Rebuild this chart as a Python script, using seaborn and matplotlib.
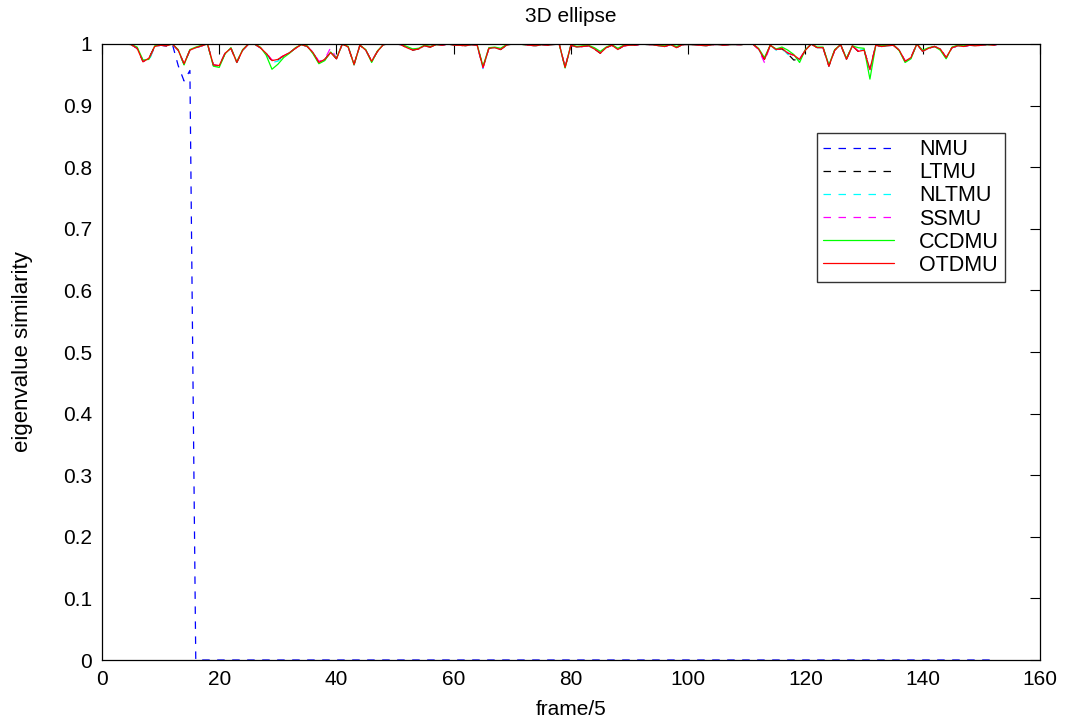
import numpy as np
import pandas as pd
import matplotlib
matplotlib.use("Agg")
import matplotlib.pyplot as plt
import seaborn as sns

# ---------------- data ----------------
frames = list(range(0, 154))

OTDMU = [1.0, 1.0, 1.0, 1.0, 1.0, 0.999, 0.993, 0.971, 0.977, 0.996,
         0.998, 0.997, 1.0, 0.990, 0.968, 0.990, 0.994, 0.997, 1.0, 0.966,
         0.965, 0.985, 0.993, 0.970, 0.990, 1.0, 1.0, 0.994, 0.985, 0.973,
         0.975, 0.981, 0.986, 0.993, 0.999, 0.996, 0.986, 0.970, 0.975, 0.986,
         0.976, 1.0, 0.995, 0.967, 0.998, 0.990, 0.972, 0.988, 0.999, 1.0,
         1.0, 0.999, 0.994, 0.990, 0.992, 0.997, 0.995, 0.999, 0.998, 1.0,
         0.998, 0.998, 0.997, 0.999, 0.998, 0.962, 0.993, 0.994, 0.991, 0.998,
         1.0, 1.0, 0.999, 0.998, 0.997, 0.999, 0.998, 0.999, 1.0, 0.962,
         0.998, 0.995, 0.996, 0.997, 0.992, 0.985, 0.994, 0.998, 0.991, 0.997,
         0.998, 0.998, 1.0, 0.999, 0.999, 0.997, 0.996, 0.999, 0.994, 0.999,
         0.999, 0.999, 0.998, 0.997, 0.999, 0.999, 0.998, 0.999, 0.999, 0.999,
         1.0, 1.0, 0.992, 0.975, 0.998, 0.991, 0.993, 0.985, 0.982, 0.975,
         0.990, 1.0, 0.994, 0.994, 0.964, 0.990, 0.999, 0.975, 0.997, 0.988,
         0.990, 0.959, 0.998, 0.996, 0.997, 0.998, 0.990, 0.972, 0.978, 1.0,
         0.988, 0.993, 0.996, 0.992, 0.978, 0.994, 0.997, 0.996, 0.998, 0.997,
         0.998, 0.999, 0.998, 1.0]

CCDMU = [1.0, 1.0, 1.0, 1.0, 1.0, 0.999, 0.995, 0.974, 0.975, 0.997,
         0.999, 0.998, 1.0, 0.991, 0.966, 0.991, 0.995, 0.998, 1.0, 0.964,
         0.962, 0.984, 0.994, 0.971, 0.991, 1.0, 1.0, 0.995, 0.982, 0.959,
         0.967, 0.978, 0.985, 0.994, 0.999, 0.997, 0.984, 0.968, 0.973, 0.987,
         0.977, 1.0, 0.996, 0.966, 0.998, 0.991, 0.970, 0.989, 0.999, 1.0,
         1.0, 1.0, 0.996, 0.992, 0.993, 0.998, 0.996, 0.999, 0.999, 1.0,
         0.999, 0.998, 0.998, 0.999, 0.999, 0.964, 0.994, 0.995, 0.993, 0.999,
         1.0, 1.0, 0.999, 0.999, 0.998, 0.999, 0.999, 1.0, 1.0, 0.961,
         0.999, 0.996, 0.997, 0.998, 0.994, 0.988, 0.995, 0.999, 0.993, 0.998,
         0.999, 0.999, 1.0, 1.0, 0.999, 0.998, 0.997, 0.999, 0.996, 0.999,
         1.0, 0.999, 0.999, 0.998, 0.999, 1.0, 0.999, 0.999, 1.0, 0.999,
         1.0, 1.0, 0.993, 0.978, 0.998, 0.992, 0.995, 0.990, 0.983, 0.970,
         0.991, 1.0, 0.995, 0.995, 0.966, 0.991, 0.999, 0.977, 0.997, 0.994,
         0.993, 0.943, 0.998, 0.997, 0.998, 0.999, 0.989, 0.970, 0.976, 1.0,
         0.990, 0.994, 0.996, 0.990, 0.976, 0.995, 0.998, 0.997, 0.999, 0.998,
         0.999, 0.999, 0.999, 1.0]

SSMU = [1.0, 1.0, 1.0, 1.0, 1.0, 0.999, 0.993, 0.972, 0.974, 0.996,
        0.998, 0.997, 1.0, 0.990, 0.968, 0.990, 0.994, 0.997, 1.0, 0.966,
        0.965, 0.985, 0.993, 0.971, 0.990, 1.0, 1.0, 0.994, 0.986, 0.974,
        0.976, 0.981, 0.986, 0.993, 0.999, 0.996, 0.987, 0.972, 0.975, 0.994,
        0.977, 1.0, 0.995, 0.966, 0.998, 0.990, 0.973, 0.988, 0.999, 1.0,
        1.0, 0.999, 0.995, 0.991, 0.993, 0.997, 0.996, 0.999, 0.998, 1.0,
        0.998, 0.998, 0.997, 0.999, 0.998, 0.961, 0.993, 0.994, 0.992, 0.998,
        1.0, 1.0, 0.999, 0.998, 0.997, 0.999, 0.998, 0.999, 1.0, 0.963,
        0.998, 0.995, 0.996, 0.997, 0.993, 0.986, 0.994, 0.998, 0.992, 0.997,
        0.998, 0.998, 1.0, 0.999, 0.999, 0.997, 0.996, 0.999, 0.995, 0.999,
        0.999, 0.999, 0.998, 0.997, 0.999, 0.999, 0.998, 0.999, 0.999, 0.999,
        1.0, 1.0, 0.991, 0.970, 0.998, 0.991, 0.993, 0.986, 0.981, 0.976,
        0.990, 1.0, 0.994, 0.994, 0.965, 0.990, 0.999, 0.976, 0.997, 0.989,
        0.991, 0.958, 0.998, 0.996, 0.997, 0.998, 0.990, 0.973, 0.978, 1.0,
        0.989, 0.993, 0.996, 0.992, 0.978, 0.994, 0.997, 0.996, 0.998, 0.997,
        0.998, 0.999, 0.998, 1.0]

NLTMU = [1.0, 1.0, 1.0, 1.0, 1.0, 0.999, 0.994, 0.972, 0.972, 0.996,
         0.998, 0.997, 1.0, 0.990, 0.967, 0.990, 0.994, 0.997, 1.0, 0.965,
         0.964, 0.985, 0.993, 0.970, 0.990, 1.0, 1.0, 0.994, 0.984, 0.970,
         0.972, 0.980, 0.986, 0.993, 0.999, 0.996, 0.986, 0.970, 0.974, 0.987,
         0.976, 1.0, 0.995, 0.967, 0.998, 0.990, 0.971, 0.988, 0.999, 1.0,
         1.0, 0.999, 0.995, 0.991, 0.992, 0.997, 0.995, 0.999, 0.998, 1.0,
         0.998, 0.998, 0.997, 0.999, 0.998, 0.960, 0.993, 0.994, 0.991, 0.998,
         1.0, 1.0, 0.999, 0.998, 0.997, 0.999, 0.998, 0.999, 1.0, 0.962,
         0.998, 0.995, 0.996, 0.997, 0.992, 0.986, 0.994, 0.998, 0.992, 0.997,
         0.998, 0.998, 1.0, 0.999, 0.999, 0.997, 0.996, 0.999, 0.995, 0.999,
         0.999, 0.999, 0.998, 0.997, 0.999, 0.999, 0.998, 0.999, 0.999, 0.999,
         1.0, 1.0, 0.992, 0.974, 0.998, 0.990, 0.993, 0.983, 0.980, 0.974,
         0.990, 1.0, 0.994, 0.994, 0.965, 0.990, 0.999, 0.975, 0.997, 0.990,
         0.991, 0.957, 0.998, 0.996, 0.997, 0.998, 0.990, 0.971, 0.977, 1.0,
         0.988, 0.993, 0.996, 0.992, 0.977, 0.994, 0.997, 0.996, 0.998, 0.997,
         0.998, 0.999, 0.998, 1.0]

LTMU = [1.0, 1.0, 1.0, 1.0, 1.0, 0.999, 0.993, 0.972, 0.976, 0.996,
        0.998, 0.997, 1.0, 0.990, 0.967, 0.990, 0.994, 0.997, 1.0, 0.966,
        0.964, 0.985, 0.993, 0.970, 0.990, 1.0, 1.0, 0.994, 0.985, 0.972,
        0.974, 0.981, 0.986, 0.993, 0.999, 0.996, 0.986, 0.970, 0.975, 0.986,
        0.976, 1.0, 0.995, 0.967, 0.998, 0.990, 0.972, 0.988, 0.999, 1.0,
        1.0, 0.999, 0.994, 0.990, 0.992, 0.997, 0.995, 0.999, 0.998, 1.0,
        0.998, 0.998, 0.997, 0.999, 0.998, 0.962, 0.993, 0.994, 0.991, 0.998,
        1.0, 1.0, 0.999, 0.998, 0.997, 0.999, 0.998, 0.999, 1.0, 0.962,
        0.998, 0.995, 0.996, 0.997, 0.992, 0.985, 0.994, 0.998, 0.991, 0.997,
        0.998, 0.998, 1.0, 0.999, 0.999, 0.997, 0.996, 0.999, 0.994, 0.999,
        0.999, 0.999, 0.998, 0.997, 0.999, 0.999, 0.998, 0.999, 0.999, 0.999,
        1.0, 1.0, 0.992, 0.975, 0.998, 0.991, 0.992, 0.984, 0.974, 0.975,
        0.990, 1.0, 0.994, 0.994, 0.964, 0.990, 0.999, 0.975, 0.997, 0.988,
        0.990, 0.959, 0.998, 0.996, 0.997, 0.998, 0.990, 0.972, 0.978, 1.0,
        0.988, 0.993, 0.996, 0.992, 0.978, 0.994, 0.997, 0.996, 0.998, 0.997,
        0.998, 0.999, 0.998, 1.0]

nmu_frames = list(range(0, 153))
NMU = [1.0, 1.0, 1.0, 1.0, 1.0, 0.999, 0.993, 0.972, 0.977, 0.996,
       0.998, 0.997, 1.0, 0.965, 0.940, 0.957] + [0.0] * 137

series_names = ["NMU", "LTMU", "NLTMU", "SSMU", "CCDMU", "OTDMU"]
x_ticks = [0, 20, 40, 60, 80, 100, 120, 140, 160]
y_ticks = [0, 0.1, 0.2, 0.3, 0.4, 0.5, 0.6, 0.7, 0.8, 0.9, 1.0]
y_tick_labels = ["0", "0.1", "0.2", "0.3", "0.4", "0.5", "0.6", "0.7", "0.8", "0.9", "1"]

# ---------------- build table ----------------
frames_list = [nmu_frames, frames, frames, frames, frames, frames]
values_list = [NMU, LTMU, NLTMU, SSMU, CCDMU, OTDMU]
rows = []
for name, fr, vals in zip(series_names, frames_list, values_list):
    for f, v in zip(fr, vals):
        rows.append((name, f, v))
df = pd.DataFrame(rows, columns=["method", "frame", "value"])

colors = {"NMU": "#0000ff", "LTMU": "#000000", "NLTMU": "#00ffff",
          "SSMU": "#ff00ff", "CCDMU": "#00ff00", "OTDMU": "#ff0000"}
dash = (0, (6, 6))
styles = {"NMU": dash, "LTMU": dash, "NLTMU": dash, "SSMU": dash,
          "CCDMU": "-", "OTDMU": "-"}

sns.set_theme(style="white")
plt.rcParams["font.family"] = ["Liberation Sans", "DejaVu Sans"]
plt.rcParams["text.color"] = "black"
plt.rcParams["axes.labelcolor"] = "black"

fig = plt.figure(figsize=(10.7, 7.26), dpi=100)
ax = fig.add_axes([0.0953, 0.0909, 0.8766, 0.8485])

for name in series_names:
    sub = df[df["method"] == name]
    sns.lineplot(data=sub, x="frame", y="value", ax=ax, color=colors[name],
                 linewidth=0.9, label=name, estimator=None, sort=False)
    ax.lines[-1].set_linestyle(styles[name])

ax.set_xlim(0, 160)
ax.set_ylim(0, 1)
ax.set_xticks(x_ticks)
ax.set_xticklabels([str(t) for t in x_ticks])
ax.set_yticks(y_ticks)
ax.set_yticklabels(y_tick_labels)
ax.tick_params(direction="in", length=7, width=0.8, top=True, right=True,
               labelsize=15, colors="black", pad=7)
for sp in ax.spines.values():
    sp.set_color("black")
    sp.set_linewidth(0.9)

ax.set_title("3D ellipse", fontsize=15, pad=16, color="black")
ax.set_xlabel("frame/5", fontsize=15, labelpad=8, color="black")
ax.set_ylabel("eigenvalue similarity", fontsize=16, labelpad=22, color="black")

leg = ax.legend(loc="upper left", bbox_to_anchor=(0.762, 0.856), fontsize=15.5,
                handlelength=3.3, handletextpad=1.15, labelspacing=0.1,
                borderpad=0.3, frameon=True, fancybox=False, borderaxespad=0)
leg.get_frame().set_edgecolor("black")
leg.get_frame().set_linewidth(1.0)
for h, name in zip(leg.get_lines(), series_names):
    h.set_linestyle(styles[name])
    h.set_linewidth(0.9)

fig.savefig("out.png", dpi=100)
